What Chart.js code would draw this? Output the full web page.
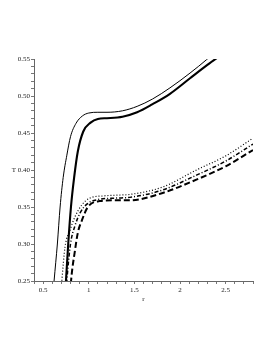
<!DOCTYPE html>
<html>
<head>
<meta charset="utf-8">
<script src="https://cdn.jsdelivr.net/npm/chart.js@4"></script>
<style>
  html, body { margin: 0; padding: 0; background: #fff; }
  #wrap { width: 273px; height: 353px; position: relative; }
</style>
</head>
<body>
<div id="wrap"><canvas id="chart" width="273" height="353"></canvas></div>
<script>
// curve samples (r, T)
const rThin  = [0.60, 0.62, 0.656, 0.686, 0.72, 0.76, 0.80, 0.86, 0.93, 1.0, 1.1, 1.2, 1.37, 1.53, 1.7, 1.89, 2.11, 2.29, 2.4];
const tThin  = [0.22, 0.25, 0.30, 0.35, 0.39, 0.42, 0.445, 0.463, 0.473, 0.477, 0.478, 0.478, 0.480, 0.486, 0.496, 0.511, 0.531, 0.549, 0.561];
const rThick = [0.73, 0.75, 0.775, 0.805, 0.84, 0.88, 0.94, 1.02, 1.1, 1.2, 1.37, 1.53, 1.7, 1.89, 2.11, 2.3, 2.48];
const tThick = [0.22, 0.25, 0.30, 0.35, 0.39, 0.425, 0.452, 0.464, 0.469, 0.470, 0.472, 0.478, 0.489, 0.503, 0.524, 0.542, 0.558];
const rDot   = [0.68, 0.705, 0.74, 0.795, 0.85, 0.925, 1.01, 1.16, 1.3, 1.45, 1.81, 2.18, 2.5, 2.8];
const tDot   = [0.21, 0.25, 0.296, 0.319, 0.337, 0.353, 0.362, 0.365, 0.366, 0.367, 0.377, 0.40, 0.419, 0.443];
const rDashDot = [0.74, 0.76, 0.80, 0.85, 0.91, 0.99, 1.1, 1.3, 1.45, 1.81, 2.18, 2.5, 2.8];
const tDashDot = [0.21, 0.25, 0.30, 0.325, 0.343, 0.355, 0.360, 0.362, 0.363, 0.373, 0.393, 0.412, 0.435];
const rDash  = [0.785, 0.806, 0.85, 0.88, 0.925, 0.99, 1.12, 1.31, 1.45, 1.81, 2.18, 2.5, 2.8];
const tDash  = [0.21, 0.25, 0.292, 0.315, 0.332, 0.35, 0.358, 0.359, 0.359, 0.369, 0.387, 0.405, 0.427];

const xLabels = [0.5, 1, 1.5, 2, 2.5];
const yLabels = [0.25, 0.30, 0.35, 0.40, 0.45, 0.50, 0.55];

function pts(rs, ts) {
    return rs.map((r, i) => ({ x: r, y: ts[i] }));
}

function line(rs, ts, width, dash) {
    return {
        data: pts(rs, ts),
        borderColor: '#000',
        borderWidth: width,
        borderDash: dash,
        pointRadius: 0,
        fill: false,
        cubicInterpolationMode: 'monotone'
    };
}

// "T" sits level with the middle of the vertical axis, unrotated
const yTitle = {
    id: 'yTitle',
    afterDraw(chart) {
        const c = chart.ctx;
        const y = chart.scales.y.getPixelForValue(0.40);
        c.save();
        c.font = '7px "Liberation Serif"';
        c.fillStyle = '#222';
        c.textAlign = 'center';
        c.textBaseline = 'middle';
        c.fillText('T', 14, y);
        c.restore();
    }
};

const near = (v, list) => list.find(l => Math.abs(l - v) < 1e-6);
const tickFont = { family: '"Liberation Serif"', size: 7 };

new Chart(document.getElementById('chart'), {
    type: 'line',
    data: {
        datasets: [
            line(rThin, tThin, 1, []),
            line(rThick, tThick, 2.1, []),
            line(rDot, tDot, 1.2, [1, 2]),
            line(rDashDot, tDashDot, 1.5, [4, 2, 1, 2]),
            line(rDash, tDash, 2, [6, 3])
        ]
    },
    options: {
        responsive: false,
        animation: false,
        layout: { padding: { top: 59, right: 20, bottom: 50, left: 0 } },
        plugins: { legend: { display: false }, tooltip: { enabled: false } },
        scales: {
            x: {
                type: 'linear',
                min: 0.4,
                max: 2.8,
                afterBuildTicks(s) {
                    s.ticks = [];
                    for (let i = 4; i <= 28; i++) s.ticks.push({ value: i / 10 });
                },
                afterFit(s) { s.height = 22; },
                ticks: {
                    autoSkip: false,
                    maxRotation: 0,
                    padding: 2,
                    font: tickFont,
                    color: '#222',
                    callback: v => {
                        const m = near(v, xLabels);
                        return m === undefined ? '' : String(m);
                    }
                },
                grid: { drawOnChartArea: false, drawTicks: true, tickLength: 3, color: '#777' },
                border: { display: true, color: '#666', width: 1 },
                title: { display: true, text: 'r', font: { family: '"Liberation Serif"', size: 7 }, color: '#222', padding: { top: 1, bottom: 0 } }
            },
            y: {
                type: 'linear',
                min: 0.25,
                max: 0.55,
                afterBuildTicks(s) {
                    s.ticks = [];
                    for (let i = 25; i <= 55; i++) s.ticks.push({ value: i / 100 });
                },
                afterFit(s) { s.width = 34; },
                ticks: {
                    autoSkip: false,
                    padding: 1,
                    font: tickFont,
                    color: '#222',
                    callback: v => {
                        const m = near(v, yLabels);
                        return m === undefined ? '' : m.toFixed(2);
                    }
                },
                grid: { drawOnChartArea: false, drawTicks: true, tickLength: 3, color: '#777' },
                border: { display: true, color: '#666', width: 1 }
            }
        }
    },
    plugins: [yTitle]
});
</script>
</body>
</html>
